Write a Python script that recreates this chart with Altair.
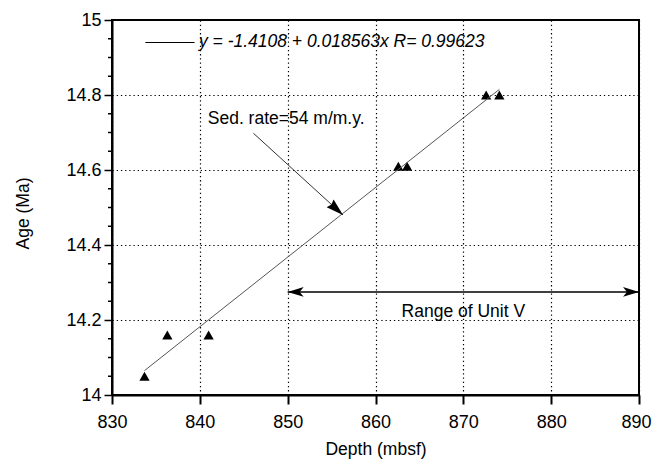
import altair as alt
import pandas as pd

# ---- data ----
depth = [833.7, 836.3, 841.0, 862.6, 863.6, 872.6, 874.1]
age = [14.05, 14.16, 14.16, 14.61, 14.61, 14.80, 14.80]

fit_depth = [833.7, 874.1]
fit_age = [14.065, 14.815]

x_ticks = [830, 840, 850, 860, 870, 880, 890]
y_ticks = [14.0, 14.2, 14.4, 14.6, 14.8, 15.0]
y_minor = [14.05, 14.1, 14.15, 14.25, 14.3, 14.35, 14.45, 14.5, 14.55,
           14.65, 14.7, 14.75, 14.85, 14.9, 14.95]

legend_text = ["y = -1.4108 + 0.018563x R= 0.99623"]
legend_line_x = [833.8, 839.4]
legend_line_y = [14.94]
legend_text_x = [839.9]
legend_text_y = [14.929]

sed_text = ["Sed. rate=54 m/m.y."]
sed_text_x = [840.9]
sed_text_y = [14.723]
sed_arrow_x = [846.1, 856.3]
sed_arrow_y = [14.698, 14.48]

range_text = ["Range of Unit V"]
range_text_x = [870.0]
range_text_y = [14.207]
range_x = [850, 890]
range_y = [14.275]

FONT = "Liberation Sans"

xs = alt.Scale(domain=[830, 890], nice=False, zero=False)
ys = alt.Scale(domain=[14, 15], nice=False, zero=False)

pts = pd.DataFrame({"depth": depth, "age": age})
fit = pd.DataFrame({"depth": fit_depth, "age": fit_age})

x_axis = alt.Axis(values=x_ticks, format="d", grid=True, gridDash=[1.3, 2.9],
                  gridColor="#000", gridWidth=1.2, tickSize=9, tickWidth=2,
                  tickColor="#000", domainColor="#000", domainWidth=2,
                  labelFont=FONT, labelFontSize=18, labelColor="#000",
                  labelPadding=23, labelBaseline="alphabetic", labelFlush=False,
                  labelOverlap=False, labelBound=False,
                  labelOffset={"condition": {"test": "datum.value == 890", "value": -3},
                               "value": 0},
                  title="Depth (mbsf)", titleFont=FONT, titleFontSize=17.5,
                  titleFontWeight="normal", titleColor="#000",
                  titleY=59.5, titleBaseline="alphabetic")
y_axis = alt.Axis(values=y_ticks, format="~g", grid=True, gridDash=[1.3, 2.9],
                  gridColor="#000", gridWidth=1.2, tickSize=8, tickWidth=1.5,
                  tickColor="#000", domainColor="#000", domainWidth=2,
                  labelFont=FONT, labelFontSize=18, labelColor="#000",
                  labelPadding=3, labelFlush=False, labelOverlap=False,
                  title="Age (Ma)", titleFont=FONT, titleFontSize=17.5,
                  titleFontWeight="normal", titleColor="#000",
                  titleX=-89, titleY=193, titleBaseline="middle",
                  titleAlign="center", titleAngle=270)

X = alt.X("depth:Q", scale=xs, title="Depth (mbsf)")
Y = alt.Y("age:Q", scale=ys, title="Age (Ma)")

points = alt.Chart(pts).mark_point(
    shape="triangle-up", filled=True, size=105, color="#000", opacity=1
).encode(
    x=alt.X("depth:Q", scale=xs, axis=x_axis),
    y=alt.Y("age:Q", scale=ys, axis=y_axis),
)

fit_line = alt.Chart(fit).mark_line(color="#555", strokeWidth=1).encode(x=X, y=Y)

minor = alt.Chart(pd.DataFrame({"age": y_minor})).mark_rule(
    color="#000", strokeWidth=1.5
).encode(y=Y, x=alt.value(-4), x2=alt.value(0))

# legend
leg_line = alt.Chart(pd.DataFrame({"depth": [legend_line_x[0]], "depth2": [legend_line_x[1]],
                                   "age": legend_line_y})).mark_rule(
    color="#000", strokeWidth=1
).encode(x=X, x2="depth2:Q", y=Y)
leg_text = alt.Chart(pd.DataFrame({"depth": legend_text_x, "age": legend_text_y,
                                   "t": legend_text})).mark_text(
    font=FONT, fontSize=17.5, fontStyle="italic", align="left",
    baseline="alphabetic", color="#000"
).encode(x=X, y=Y, text="t:N")

# sed rate arrow
sed_line = alt.Chart(pd.DataFrame({"depth": [sed_arrow_x[0]], "depth2": [sed_arrow_x[1]],
                                   "age": [sed_arrow_y[0]], "age2": [sed_arrow_y[1]]})).mark_rule(
    color="#333", strokeWidth=1
).encode(x=X, x2="depth2:Q", y=Y, y2="age2:Q")
sed_head = alt.Chart(pd.DataFrame({"depth": [sed_arrow_x[1]], "age": [sed_arrow_y[1]]})).mark_point(
    shape="M0,0 L-0.6,2 L0,1.8 L0.6,2 Z", filled=True, size=300,
    angle=132, color="#000", opacity=1, strokeWidth=0
).encode(x=X, y=Y)
sed_label = alt.Chart(pd.DataFrame({"depth": sed_text_x, "age": sed_text_y,
                                    "t": sed_text})).mark_text(
    font=FONT, fontSize=17.5, align="left", baseline="alphabetic", color="#000"
).encode(x=X, y=Y, text="t:N")

# range arrow
rng_line = alt.Chart(pd.DataFrame({"depth": [range_x[0]], "depth2": [range_x[1]],
                                   "age": range_y})).mark_rule(
    color="#000", strokeWidth=1.5
).encode(x=X, x2="depth2:Q", y=Y)
rng_heads = alt.Chart(pd.DataFrame({"depth": range_x, "age": range_y * 2,
                                    "ang": [270, 90]})).mark_point(
    shape="M0,0 L-0.6,2 L0,1.5 L0.6,2 Z", filled=True, size=256,
    color="#000", opacity=1, strokeWidth=0
).encode(x=X, y=Y, angle=alt.Angle("ang:Q", scale=None))
rng_label = alt.Chart(pd.DataFrame({"depth": range_text_x, "age": range_text_y,
                                    "t": range_text})).mark_text(
    font=FONT, fontSize=17.5, align="center", baseline="alphabetic", color="#000"
).encode(x=X, y=Y, text="t:N")

chart = alt.layer(
    points, fit_line, minor, leg_line, leg_text,
    sed_line, sed_head, sed_label, rng_line, rng_heads, rng_label
).properties(
    width=527, height=375,
    padding={"left": 104, "top": 12, "right": 13, "bottom": 68},
    autosize="none", background="white",
).configure_view(
    stroke="#000", strokeWidth=2
)

chart.save("out.html", embed_options={"renderer": "svg", "actions": False})
